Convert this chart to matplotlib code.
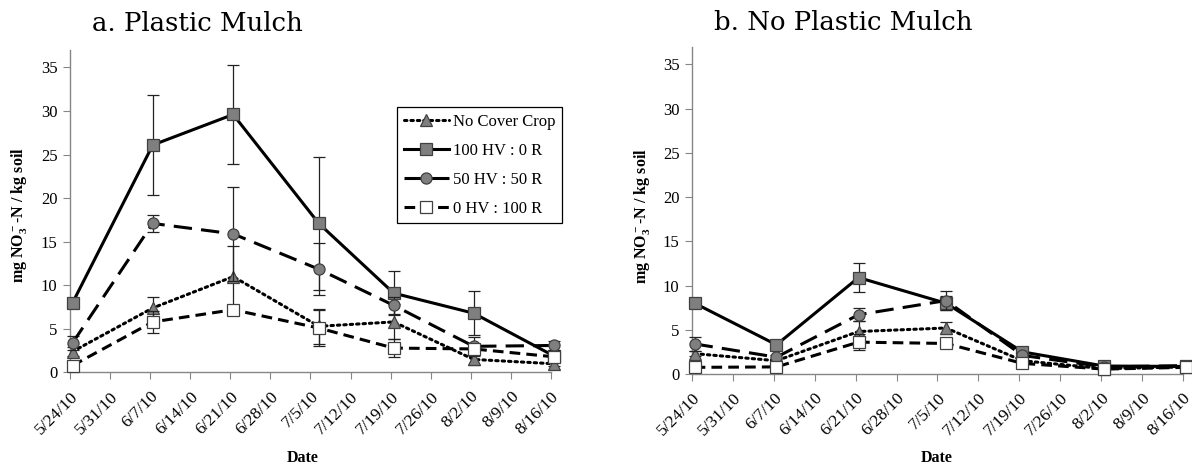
import numpy as np
import pandas as pd
import matplotlib
matplotlib.use('Agg')
import matplotlib.pyplot as plt
import matplotlib.transforms as mtransforms
from matplotlib import rcParams

rcParams['font.family'] = 'Liberation Serif'
rcParams['mathtext.fontset'] = 'custom'
rcParams['mathtext.rm'] = 'Liberation Serif'
rcParams['mathtext.bf'] = 'Liberation Serif:bold'
rcParams['mathtext.default'] = 'bf'

# sampling dates (same for both panels)
sample_dates = pd.to_datetime(['2010-05-24 11:00', '2010-06-07 11:00', '2010-06-21 12:00',
                               '2010-07-06 11:00', '2010-07-19 13:00', '2010-08-02 12:00',
                               '2010-08-16 12:00'])
tick_dates = pd.date_range('2010-05-24', '2010-08-16', freq='7D')
tick_labels = [f"{d.month}/{d.day}/{d:%y}" for d in tick_dates]

series = ['No Cover Crop', '100 HV : 0 R', '50 HV : 50 R', '0 HV : 100 R']

# a. plastic mulch
pm_nocover = [2.4, 7.4, 11.0, 5.3, 5.8, 1.5, 1.0]
pm_nocover_err = [0.5, 1.3, 3.5, 2.0, 2.0, 0.65, 0.3]
pm_100hv = [8.0, 26.1, 29.6, 17.1, 9.1, 6.8, 1.9]
pm_100hv_err = [0.4, 5.7, 5.7, 7.6, 2.5, 2.5, 0.3]
pm_50hv = [3.4, 17.1, 15.9, 11.85, 7.7, 3.0, 3.1]
pm_50hv_err = [0.8, 1.0, 5.4, 3.0, 1.0, 1.1, 0.5]
pm_0hv = [0.8, 5.8, 7.2, 5.1, 2.8, 2.7, 1.8]
pm_0hv_err = [0.2, 1.3, 0.4, 2.1, 1.0, 0.4, 0.3]

# b. no plastic mulch
npm_nocover = [2.3, 1.5, 4.8, 5.2, 1.5, 0.6, 0.8]
npm_nocover_err = [0.3, 0.2, 1.2, 0.7, 0.2, 0.1, 0.1]
npm_100hv = [8.0, 3.3, 10.9, 8.0, 2.5, 0.9, 0.85]
npm_100hv_err = [0.5, 0.3, 1.6, 0.8, 0.3, 0.1, 0.1]
npm_50hv = [3.4, 1.9, 6.7, 8.3, 2.1, 0.8, 0.95]
npm_50hv_err = [0.75, 0.3, 0.75, 1.1, 0.3, 0.1, 0.1]
npm_0hv = [0.75, 0.8, 3.6, 3.45, 1.2, 0.55, 0.75]
npm_0hv_err = [0.1, 0.1, 0.9, 0.3, 0.2, 0.1, 0.1]

styles = [
    dict(ls=(0, (0.8, 1.3)), lw=2.2, marker='^', mfc='#7f7f7f', ms=8, dash_capstyle='round'),
    dict(ls='-', lw=2.2, marker='s', mfc='#7f7f7f', ms=8),
    dict(ls=(0, (6, 3)), lw=2.2, marker='o', mfc='#7f7f7f', ms=8),
    dict(ls=(0, (3.5, 2)), lw=2.2, marker='s', mfc='white', ms=8),
]

fig = plt.figure(figsize=(11.92, 4.69), dpi=100)
ax1 = fig.add_axes([0.0587, 0.2058, 0.4035, 0.6876])
ax2 = fig.add_axes([0.5805, 0.2026, 0.4119, 0.6978])

shift = mtransforms.ScaledTranslation(6 / 100, 0, fig.dpi_scale_trans)


def draw(ax, data, errs):
    handles = []
    for i, (vals, err, st) in enumerate(zip(data, errs, styles)):
        ax.errorbar(sample_dates, vals, yerr=err, fmt='none', ecolor='#222222',
                    elinewidth=0.9, capsize=4, capthick=0.9, zorder=2 + i, clip_on=False)
        h, = ax.plot(sample_dates, vals, color='black', mec='#404040', mew=0.9,
                     zorder=3 + i, clip_on=False, label=series[i], **st)
        handles.append(h)
    ax.set_xlim(tick_dates[0], tick_dates[-1])
    ax.set_ylim(0, 37)
    ax.set_xticks(tick_dates)
    ax.set_xticklabels(tick_labels, rotation=45, ha='right', rotation_mode='anchor', fontsize=12.5)
    for lab in ax.get_xticklabels():
        lab.set_transform(lab.get_transform() + shift)
    ax.set_yticks(range(0, 40, 5))
    ax.tick_params(axis='y', labelsize=12, length=5, color='#868686', pad=4)
    ax.tick_params(axis='x', length=5, color='#868686', pad=6.5)
    for s in ['top', 'right']:
        ax.spines[s].set_visible(False)
    for s in ['left', 'bottom']:
        ax.spines[s].set_color('#868686')
        ax.spines[s].set_linewidth(1.0)
    return handles


h = draw(ax1, [pm_nocover, pm_100hv, pm_50hv, pm_0hv],
         [pm_nocover_err, pm_100hv_err, pm_50hv_err, pm_0hv_err])
draw(ax2, [npm_nocover, npm_100hv, npm_50hv, npm_0hv],
     [npm_nocover_err, npm_100hv_err, npm_50hv_err, npm_0hv_err])

leg = ax1.legend(handles=h, loc='upper left', bbox_to_anchor=(0.68, 0.823), fontsize=12,
                 handlelength=2.7, handletextpad=0.25, labelspacing=0.78, borderpad=0.4,
                 borderaxespad=0, fancybox=False, edgecolor='black', framealpha=1)
leg.get_frame().set_linewidth(0.9)

ylab = 'mg NO$_3^-$-N / kg soil'
fig.text(19 / 1192, 1 - 215 / 469, ylab, rotation=90, ha='center', va='center',
         fontsize=11.5, fontweight='bold')
fig.text(641.5 / 1192, 1 - 216 / 469, ylab, rotation=90, ha='center', va='center',
         fontsize=11.5, fontweight='bold')
fig.text(302.5 / 1192, 1 - 458 / 469, 'Date', ha='center', va='center', fontsize=11.5,
         fontweight='bold')
fig.text(937 / 1192, 1 - 458 / 469, 'Date', ha='center', va='center', fontsize=11.5,
         fontweight='bold')

fig.text(197.5 / 1192, 1 - 31 / 469, 'a. Plastic Mulch', ha='center', va='baseline',
         fontsize=18.7, family='DejaVu Serif')
fig.text(843 / 1192, 1 - 30 / 469, 'b. No Plastic Mulch', ha='center', va='baseline',
         fontsize=18.7, family='DejaVu Serif')

plt.savefig('out.png', dpi=100)
